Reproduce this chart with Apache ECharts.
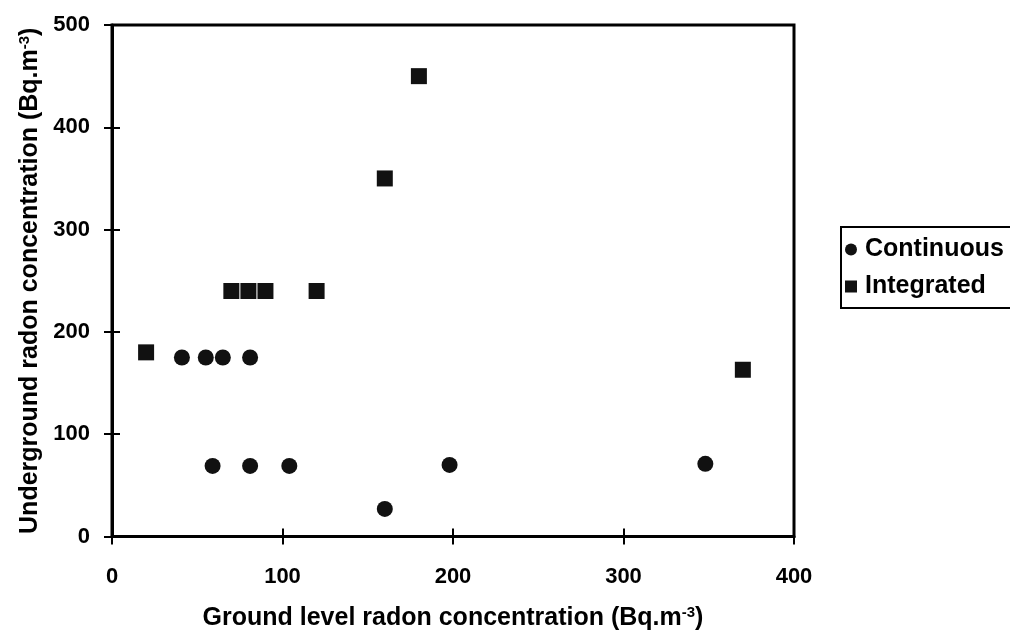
<!DOCTYPE html>
<html><head><meta charset="utf-8">
<script src="https://cdn.jsdelivr.net/npm/echarts@6/dist/echarts.min.js"></script>
<style>html,body{margin:0;padding:0;background:#fff}#c{width:1010px;height:636px}</style>
</head><body><div id="c"></div>
<script>
const continuousX = [41, 55, 65, 81, 59, 81, 104, 160, 198, 348];
const continuousY = [175, 175, 175, 175, 69, 69, 69, 27, 70, 71];
const integratedX = [20, 70, 80, 90, 120, 160, 180, 370];
const integratedY = [180, 240, 240, 240, 240, 350, 450, 163];
const xTicks = [0, 100, 200, 300, 400];
const yTicks = [0, 100, 200, 300, 400, 500];
const seriesNames = ['Continuous', 'Integrated'];

const font = 'Liberation Sans, Arial, sans-serif';
const lbl = {color: '#000', fontSize: 22, fontWeight: 'bold', fontFamily: font};
const rich = {
  n: {fontSize: 25, fontWeight: 'bold', fontFamily: font, color: '#000'},
  s: {fontSize: 15, fontWeight: 'bold', fontFamily: font, color: '#000', verticalAlign: 'top', padding: [0, 0, 11, 0]}
};
const chart = echarts.init(document.getElementById('c'));
const mkX = (inside) => ({
  type: 'value', min: xTicks[0], max: xTicks[xTicks.length - 1], interval: 100,
  position: 'bottom', gridIndex: 0,
  axisLine: {show: !inside, lineStyle: {color: '#000', width: 3}},
  axisTick: {show: true, inside: inside, length: 8, lineStyle: {color: '#000', width: 2}},
  axisLabel: inside ? {show: false} : Object.assign({margin: 29}, lbl),
  splitLine: {show: false},
  name: inside ? '' : '{n|Ground level radon concentration (Bq.m}{s|-3}{n|)}',
  nameLocation: 'middle', nameGap: 69,
  nameTextStyle: {rich: rich}
});
const mkY = (inside) => ({
  type: 'value', min: yTicks[0], max: yTicks[yTicks.length - 1], interval: 100,
  position: 'left', gridIndex: 0,
  axisLine: {show: !inside, lineStyle: {color: '#000', width: 3}},
  axisTick: {show: true, inside: inside, length: 8, lineStyle: {color: '#000', width: 2}},
  axisLabel: inside ? {show: false} : Object.assign({margin: 22}, lbl),
  splitLine: {show: false},
  name: inside ? '' : '{n|Underground radon concentration (Bq.m}{s|-3}{n|)}',
  nameLocation: 'middle', nameGap: 69, nameRotate: 90,
  nameTextStyle: {rich: rich}
});
chart.setOption({
  backgroundColor: '#fff',
  animation: false,
  grid: {left: 112, right: 216, top: 25, bottom: 79, show: true, borderColor: '#000', borderWidth: 3, backgroundColor: 'transparent'},
  xAxis: [mkX(false), mkX(true)],
  yAxis: [mkY(false), mkY(true)],
  legend: {
    left: 841, top: 227, orient: 'vertical',
    borderColor: '#000', borderWidth: 2, padding: [10, 24, 9, 4],
    itemWidth: 12, itemHeight: 12, itemGap: 12,
    textStyle: {color: '#000', fontSize: 25, fontWeight: 'bold', fontFamily: font, padding: [0, 0, 0, 3]},
    data: [{name: seriesNames[0], icon: 'circle'}, {name: seriesNames[1], icon: 'rect'}]
  },
  series: [
    {name: seriesNames[0], type: 'scatter', symbol: 'circle', symbolSize: 16,
     itemStyle: {color: '#111', opacity: 1},
     data: continuousX.map((x, i) => [x, continuousY[i]])},
    {name: seriesNames[1], type: 'scatter', symbol: 'rect', symbolSize: 16,
     itemStyle: {color: '#111', opacity: 1},
     data: integratedX.map((x, i) => [x, integratedY[i]])}
  ]
});
</script></body></html>
